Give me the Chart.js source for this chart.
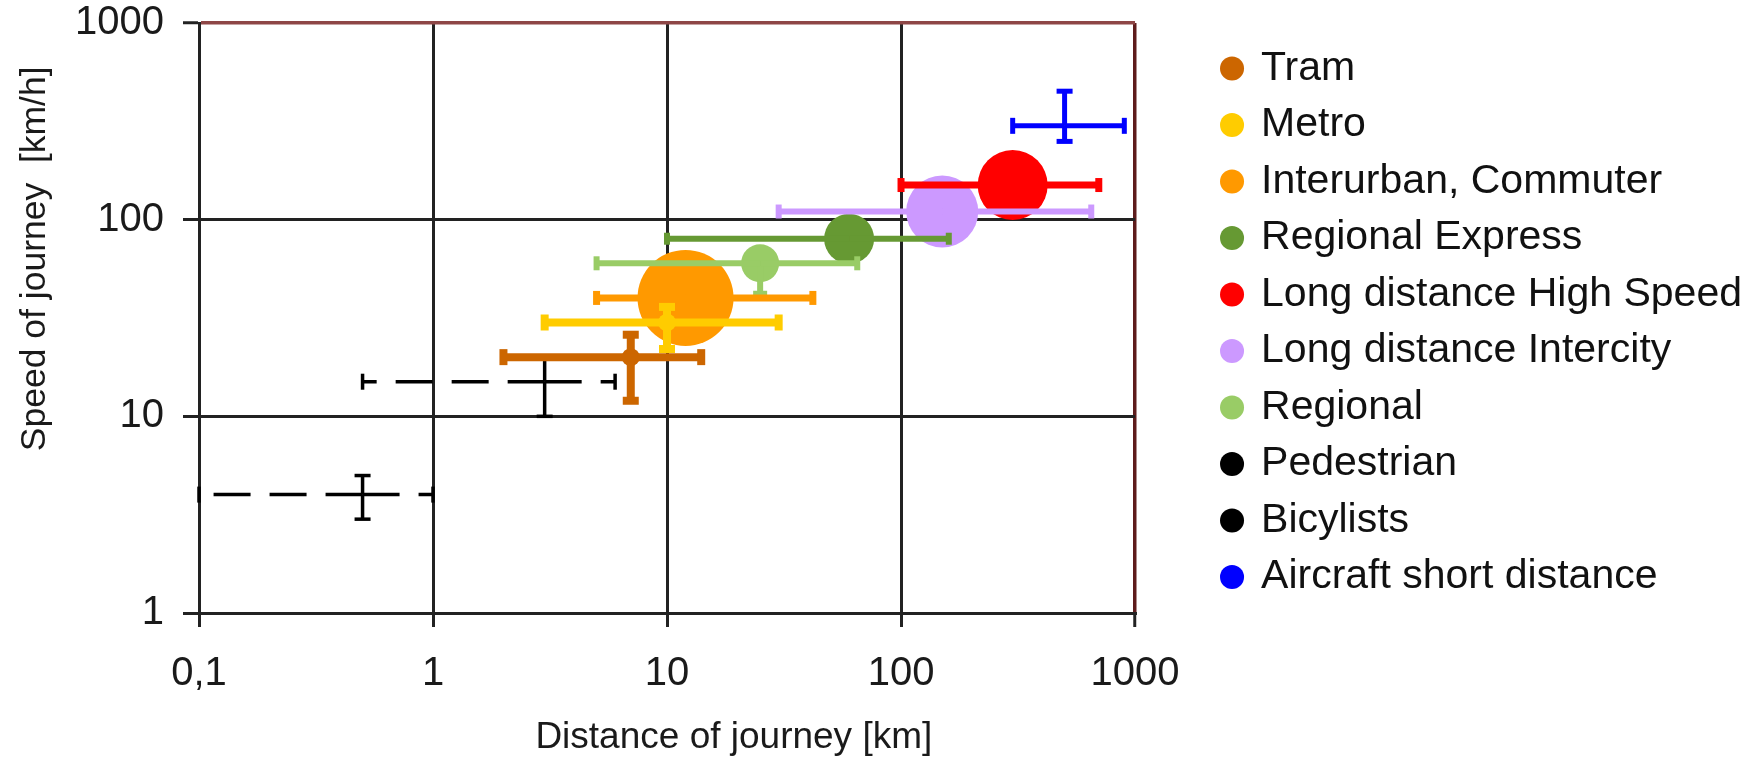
<!DOCTYPE html>
<html>
<head>
<meta charset="utf-8">
<script src="https://cdn.jsdelivr.net/npm/chart.js@4/dist/chart.umd.min.js"></script>
<style>
  html, body { margin: 0; padding: 0; background: #fff; }
</style>
</head>
<body>
<canvas id="grafico" width="1752" height="758"></canvas>
<script>
// === Data ===
const categories = [
  'Tram', 'Metro', 'Interurban, Commuter', 'Regional Express',
  'Long distance High Speed', 'Long distance Intercity', 'Regional',
  'Pedestrian', 'Bicylists', 'Aircraft short distance'
];
const distance    = [7, 10, 12, 60, 300, 150, 25, 0.5, 3, 500];
const distanceMin = [2, 3, 5, 10, 100, 30, 5, 0.1, 0.5, 300];
const distanceMax = [14, 30, 42, 160, 700, 650, 65, 1, 6, 900];
const speed       = [20, 30, 40, 80, 150, 110, 60, 4, 15, 300];
const speedMin    = [12, 22, null, null, null, null, 42, 3, 10, 250];
const speedMax    = [26, 36, null, null, null, null, null, 5, 20, 450];

const xTickValues = [0.1, 1, 10, 100, 1000];
const xTickLabels = ['0,1', '1', '10', '100', '1000'];
const yTickValues = [1, 10, 100, 1000];
const yTickLabels = ['1', '10', '100', '1000'];

// === Styles ===
const colors = ['#CC6600', '#FFCC00', '#FF9900', '#669933', '#FF0000',
                '#CC99FF', '#99CC66', '#000000', '#000000', '#0000FF'];
const bubbleRadius = [9, 9, 48, 25, 35, 36, 19, 0, 0, 0];
const barWidth     = [8, 8, 7, 6, 7, 6, 6, 3.5, 3.5, 5];
const capRadius    = [8, 8, 7, 6, 7, 7, 7, 8, 8, 8];
const dashedDistance = [false, false, false, false, false, false, false, true, true, false];

const gridColor = '#222222';
const frameTop = '#8E4646';
const frameRight = '#5E1C1C';

Chart.defaults.font.family = '"Liberation Sans", Arial, sans-serif';
Chart.defaults.color = '#1a1a1a';

// bubbles (one dataset per category, these make the legend)
const bubbles = categories.map((name, i) => ({
  type: 'scatter',
  label: name,
  data: [{ x: distance[i], y: speed[i] }],
  backgroundColor: colors[i],
  borderColor: colors[i],
  pointRadius: bubbleRadius[i],
  pointHoverRadius: bubbleRadius[i],
  pointBorderWidth: 0,
  order: 2
}));

// error bars drawn from the centre outwards, cap at the far end
function errorArm(i, endX, endY, vertical) {
  const dashed = dashedDistance[i] && !vertical;
  return {
    type: 'scatter',
    label: '',
    showLine: true,
    data: [{ x: distance[i], y: speed[i] }, { x: endX, y: endY }],
    borderColor: colors[i],
    backgroundColor: colors[i],
    borderWidth: barWidth[i],
    borderDash: dashed ? [37, 19] : [],
    borderCapStyle: 'butt',
    pointStyle: 'line',
    pointRotation: vertical ? 0 : 90,
    pointRadius: [0, capRadius[i]],
    pointHoverRadius: [0, capRadius[i]],
    pointBorderColor: colors[i],
    pointBorderWidth: barWidth[i],
    clip: false,
    order: 1
  };
}

const arms = [];
categories.forEach((name, i) => {
  if (distanceMin[i] !== null) arms.push(errorArm(i, distanceMin[i], speed[i], false));
  if (distanceMax[i] !== null) arms.push(errorArm(i, distanceMax[i], speed[i], false));
  if (speedMin[i] !== null) arms.push(errorArm(i, distance[i], speedMin[i], true));
  if (speedMax[i] !== null) arms.push(errorArm(i, distance[i], speedMax[i], true));
});

const edgeColor = (edge) => (ctx) =>
  ctx.tick && ctx.tick.value === 1000 ? edge : gridColor;
const edgeWidth = (ctx) => ctx.tick && ctx.tick.value === 1000 ? 3.5 : 3;

new Chart(document.getElementById('grafico'), {
  type: 'scatter',
  data: { datasets: [...bubbles, ...arms] },
  options: {
    responsive: false,
    animation: false,
    events: [],
    devicePixelRatio: 1,
    layout: {
      autoPadding: false,
      padding: { top: 23, right: 0, bottom: 0, left: 0 }
    },
    plugins: {
      tooltip: { enabled: false },
      legend: {
        position: 'right',
        fullSize: false,
        align: 'end',
        maxWidth: 620,
        labels: {
          usePointStyle: true,
          pointStyle: 'circle',
          boxWidth: 17,
          boxHeight: 17,
          padding: 15.5,
          color: '#111',
          font: { size: 41 },
          filter: (item) => item.datasetIndex < categories.length
        }
      }
    },
    scales: {
      x: {
        type: 'logarithmic',
        min: 0.1,
        max: 1000,
        afterBuildTicks: (axis) => { axis.ticks = xTickValues.map(v => ({ value: v })); },
        afterFit: (axis) => { axis.height = 145; },
        ticks: {
          callback: (v) => xTickLabels[xTickValues.indexOf(v)],
          font: { size: 40 },
          color: '#1a1a1a',
          padding: 23,
          maxRotation: 0,
          autoSkip: false
        },
        grid: {
          color: edgeColor(frameRight),
          lineWidth: edgeWidth,
          tickLength: 14,
          tickColor: gridColor,
          tickWidth: 3
        },
        border: { color: gridColor, width: 3 },
        title: {
          display: true,
          text: ' '.repeat(13) + 'Distance of journey [km]',
          font: { size: 37, lineHeight: 1.1 },
          color: '#1a1a1a',
          padding: 0
        }
      },
      y: {
        type: 'logarithmic',
        min: 1,
        max: 1000,
        afterBuildTicks: (axis) => { axis.ticks = yTickValues.map(v => ({ value: v })); },
        afterFit: (axis) => {
          axis.width = 199;
          axis.paddingTop = 0;
          axis.paddingBottom = 0;
        },
        ticks: {
          callback: (v) => yTickLabels[yTickValues.indexOf(v)],
          font: { size: 40 },
          color: '#1a1a1a',
          padding: 19
        },
        grid: {
          color: edgeColor(frameTop),
          lineWidth: edgeWidth,
          tickLength: 16,
          tickColor: gridColor,
          tickWidth: 3
        },
        border: { color: gridColor, width: 3 },
        title: {
          display: true,
          text: ' '.repeat(12) + 'Speed of journey  [km/h]',
          font: { size: 35.5 },
          color: '#1a1a1a',
          padding: { top: 14, bottom: 0 }
        }
      },
      // empty axis that keeps the gap between plot and legend
      gap: {
        type: 'linear',
        position: 'right',
        grid: { display: false, drawTicks: false },
        ticks: { display: false },
        border: { display: false },
        afterFit: (axis) => { axis.width = 73; }
      }
    }
  }
});
</script>
</body>
</html>
